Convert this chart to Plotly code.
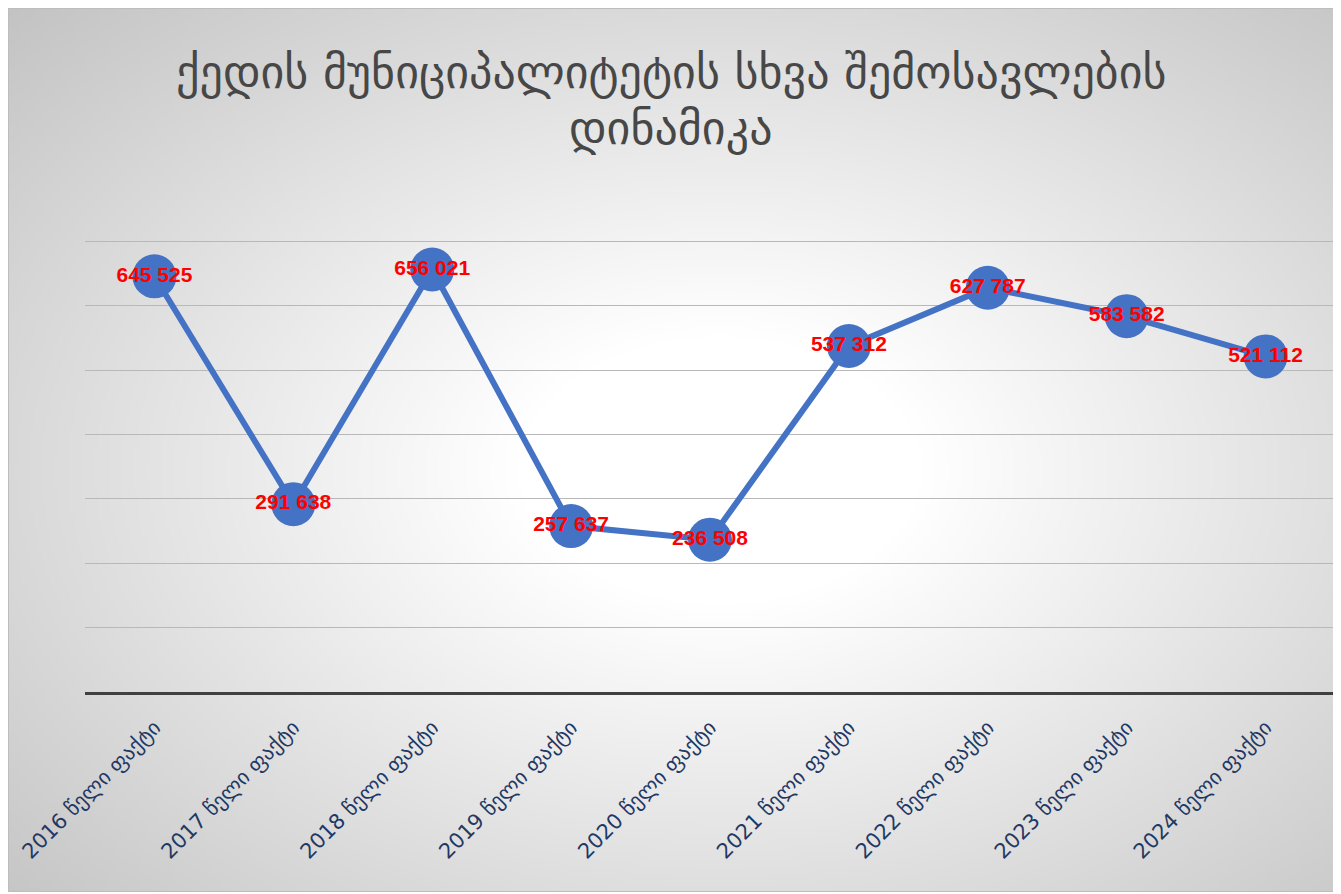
import base64, struct, zlib
import plotly.graph_objects as go

# ---- data ----
categories = ["2016 წელი ფაქტი", "2017 წელი ფაქტი", "2018 წელი ფაქტი",
              "2019 წელი ფაქტი", "2020 წელი ფაქტი", "2021 წელი ფაქტი",
              "2022 წელი ფაქტი", "2023 წელი ფაქტი", "2024 წელი ფაქტი"]
values = [645525, 291638, 656021, 257637, 236508, 537312, 627787, 583582, 521112]
value_labels = ["645 525", "291 638", "656 021", "257 637", "236 508",
                "537 312", "627 787", "583 582", "521 112"]
title_lines = ["ქედის მუნიციპალიტეტის სხვა შემოსავლების", "დინამიკა"]

# ---- geometry (pixels, figure-local; page has 8px body margin) ----
W, H = 1328, 884
L, R, T, B = 77, 1327, 230, 684
PW, PH = R - L, B - T
def px_x(x): return (x - L) / PW
def px_y(y): return (B - y) / PH

# ---- radial gradient background as PNG ----
def make_png(w, h, scale):
    cx, cy = 712.0, 462.0
    rows = bytearray()
    for j in range(h):
        rows.append(0)
        y = (j + 0.5) * scale
        for i in range(w):
            x = (i + 0.5) * scale
            dx = (x - cx) / 660.0
            dy = (y - cy) / 440.0
            d = (dx * dx + dy * dy) ** 0.5
            drop = max(0.0, d - 0.3) * 50.0
            drop = min(drop, 60.0)
            rows.append(int(round(255 - drop)))
    def chunk(tag, data):
        c = struct.pack(">I", len(data)) + tag + data
        return c + struct.pack(">I", zlib.crc32(tag + data) & 0xffffffff)
    png = b"\x89PNG\r\n\x1a\n"
    png += chunk(b"IHDR", struct.pack(">IIBBBBB", w, h, 8, 0, 0, 0, 0))
    png += chunk(b"IDAT", zlib.compress(bytes(rows), 9))
    png += chunk(b"IEND", b"")
    return "data:image/png;base64," + base64.b64encode(png).decode()

img_src = make_png(W // 4, H // 4, 4)

fig = go.Figure()
fig.add_trace(go.Scatter(
    x=categories, y=values, mode="lines+markers+text",
    line=dict(color="#4472C4", width=6),
    marker=dict(color="#4472C4", size=44),
    text=value_labels, textposition="middle center",
    textfont=dict(family="Liberation Sans", size=21, color="#FF0000", weight="bold"),
    cliponaxis=False, hoverinfo="skip", showlegend=False,
))

fig.update_layout(
    width=W, height=H,
    margin=dict(l=L, r=W - R, t=T, b=H - B, pad=0),
    paper_bgcolor="#d9d9d9", plot_bgcolor="rgba(0,0,0,0)",
    xaxis=dict(type="category", range=[-0.5, len(categories) - 0.5],
               showgrid=False, showline=True, linecolor="#404040",
               linewidth=3, ticks="", tickangle=-45, ticklabelstandoff=12,
               tickfont=dict(family="DejaVu Sans", size=21, color="#1F3864")),
    yaxis=dict(range=[0, 705000], showgrid=True, gridcolor="#b8b8b8", gridwidth=1,
               tick0=0, dtick=100000, showticklabels=False, zeroline=False, ticks=""),
    images=[dict(source=img_src, xref="paper", yref="paper",
                 x=px_x(0), y=px_y(0), sizex=W / PW, sizey=H / PH,
                 xanchor="left", yanchor="top", sizing="stretch", layer="below")],
    shapes=[dict(type="rect", xref="paper", yref="paper",
                 x0=px_x(0.5), x1=px_x(W - 0.5), y0=px_y(H - 0.5), y1=px_y(0.5),
                 line=dict(color="#bdbdbd", width=1), fillcolor="rgba(0,0,0,0)", layer="above")],
    annotations=[
        dict(text=title_lines[0], xref="paper", yref="paper", x=px_x(663), y=px_y(64),
             xanchor="center", yanchor="middle", showarrow=False,
             font=dict(family="DejaVu Sans", size=46, color="#474747")),
        dict(text=title_lines[1], xref="paper", yref="paper", x=px_x(663), y=px_y(120),
             xanchor="center", yanchor="middle", showarrow=False,
             font=dict(family="DejaVu Sans", size=46, color="#474747")),
    ],
)

fig.write_html("out.html")
